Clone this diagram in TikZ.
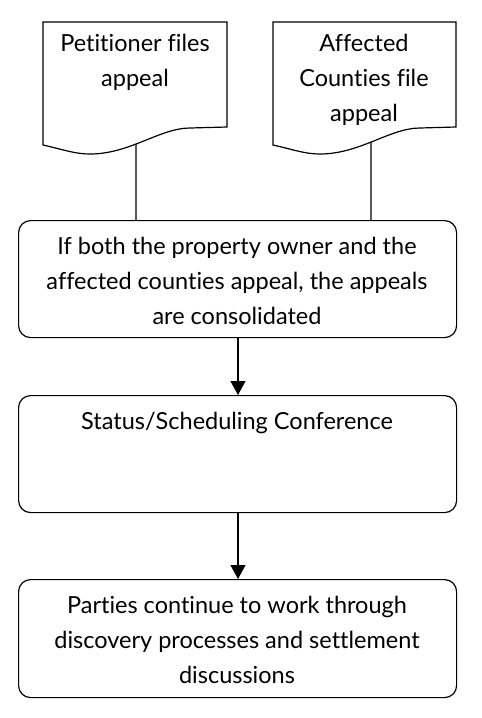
\documentclass[tikz,border=0pt]{standalone}
\usepackage{fontspec}
\setmainfont{Lato}[Ligatures=NoCommon,RawFeature=-liga]
\usetikzlibrary{arrows.meta,intersections}
\begin{document}
\begin{tikzpicture}[x=1pt,y=-1pt,
  line width=1.2pt,
  txt/.style={font=\fontsize{23.5}{35}\selectfont, align=center, inner sep=0pt, anchor=north},
  boxshape/.style={draw, rounded corners=12pt, minimum width=438pt, inner sep=0pt, anchor=north west},
  arr/.style={-{Triangle[width=15pt,length=14pt]}}
]
\useasboundingbox (0,0) rectangle (482,718);
% documents
\draw[name path=doc1] (43,22) -- (227,22) -- (227,127) -- (190,128)
  .. controls (160,128) and (130,154) .. (90,154)
  .. controls (75,154) and (65,150) .. (43,145) -- cycle;
\draw[name path=doc2] (273,22) -- (456,22) -- (456,127) -- (420,128)
  .. controls (390,128) and (360,154) .. (320,154)
  .. controls (305,154) and (295,150) .. (273,145) -- cycle;
\node[txt] (t1) at (135,34) {Petitioner files\\appeal};
\node[txt] (t2) at (364,34) {Affected\\Counties file\\appeal};
\path[name path=v1] (136,100) -- (136,230);
\path[name path=v2] (371,100) -- (371,230);
\path[name intersections={of=doc1 and v1, by=d1b}];
\path[name intersections={of=doc2 and v2, by=d2b}];
% boxes
\node[boxshape, minimum height=117pt] (b1) at (18,220) {};
\node[boxshape, minimum height=117pt] (b2) at (18,395) {};
\node[boxshape, minimum height=118pt] (b3) at (18,579) {};
\node[txt] (bt1) at (237,237) {If both the property owner and the\\affected counties appeal, the appeals\\are consolidated};
\node[txt] (bt2) at (237,412) {Status/Scheduling Conference};
\node[txt] (bt3) at (237,596) {Parties continue to work through\\discovery processes and settlement\\discussions};
\coordinate (c1) at (136,220);
\coordinate (c2) at (371,220);
\draw (d1b) -- (c1);
\draw (d2b) -- (c2);
\draw[arr] (b1.south -| 238,0) -- (b2.north -| 238,0);
\draw[arr] (b2.south -| 238,0) -- (b3.north -| 238,0);
\end{tikzpicture}
\end{document}
